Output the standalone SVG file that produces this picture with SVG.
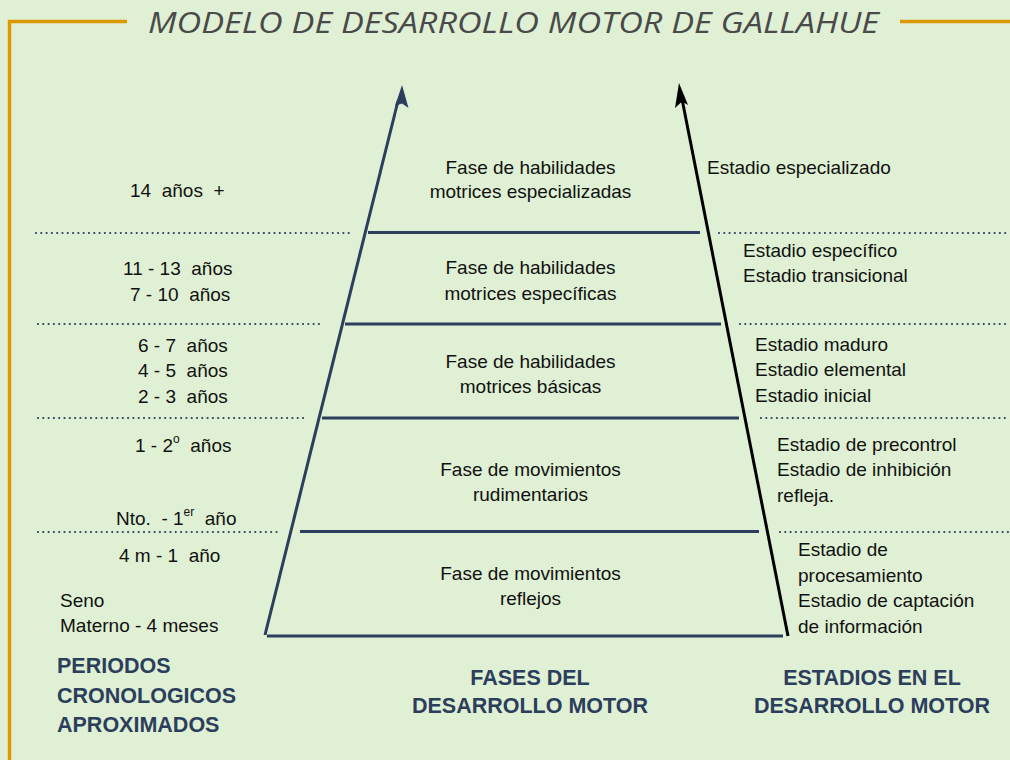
<svg xmlns="http://www.w3.org/2000/svg" width="1010" height="760" viewBox="0 0 1010 760">
<style>
text{white-space:pre}
.t{font-family:"Liberation Sans",Arial,sans-serif;font-size:19px;fill:#111}
.c{text-anchor:middle}
.b{font-family:"Liberation Sans",Arial,sans-serif;font-size:21.5px;font-weight:bold;fill:#2c3e5c}
.sol{stroke:#2c3e5c;stroke-width:3;fill:none}
.dot{stroke:#2c3e5c;stroke-width:2.2;stroke-dasharray:0 5.3;stroke-linecap:round;fill:none}
.org{stroke:#de9800;fill:none}
.sup{font-size:12px}
</style>
<rect x="0" y="0" width="1010" height="760" fill="#dff0d4"/>
<g id="frame">
<path class="org" stroke-width="3.4" d="M9.5 760 V21.5 H127 M900 21.5 H1010"/>
</g>
<g id="title">
<text x="148" y="33" font-family="'Open Sans','Liberation Sans',sans-serif" font-style="italic" font-size="30" fill="#4a4a4a" textLength="731" lengthAdjust="spacingAndGlyphs">MODELO DE DESARROLLO MOTOR DE GALLAHUE</text>
</g>
<g id="dividers">
<line class="sol" x1="368" y1="232.5" x2="700" y2="232.5"/>
<line class="sol" x1="345" y1="324" x2="721" y2="324"/>
<line class="sol" x1="322" y1="418" x2="739" y2="418"/>
<line class="sol" x1="300" y1="531.5" x2="759" y2="531.5"/>
<line class="sol" x1="267" y1="636" x2="783" y2="636"/>
<line class="dot" x1="36" y1="233" x2="352" y2="233"/>
<line class="dot" x1="719" y1="233" x2="1010" y2="233"/>
<line class="dot" x1="38" y1="324" x2="322" y2="324"/>
<line class="dot" x1="740" y1="324" x2="1010" y2="324"/>
<line class="dot" x1="38" y1="418" x2="308" y2="418"/>
<line class="dot" x1="761" y1="418" x2="1010" y2="418"/>
<line class="dot" x1="38" y1="532" x2="280" y2="532"/>
<line class="dot" x1="780" y1="532" x2="1010" y2="532"/>
</g>
<g id="connectors">
<line x1="265" y1="635" x2="398" y2="101" stroke="#2c3e5c" stroke-width="3"/>
<polygon points="402,85 408.5,108 402,103.5 395,106" fill="#2c3e5c"/>
<line x1="788" y1="636" x2="682" y2="99" stroke="#000" stroke-width="3"/>
<polygon points="679,83 688,105 682,101.5 675,108" fill="#000"/>
</g>
<g id="phase-especializadas"><text class="t c" x="530.5" y="174">Fase de habilidades</text><text class="t c" x="530.5" y="198">motrices especializadas</text></g>
<g id="phase-especificas"><text class="t c" x="530.5" y="274">Fase de habilidades</text><text class="t c" x="530.5" y="300">motrices específicas</text></g>
<g id="phase-basicas"><text class="t c" x="530.5" y="368">Fase de habilidades</text><text class="t c" x="530.5" y="393">motrices básicas</text></g>
<g id="phase-rudimentarios"><text class="t c" x="530.5" y="476">Fase de movimientos</text><text class="t c" x="530.5" y="501">rudimentarios</text></g>
<g id="phase-reflejos"><text class="t c" x="530.5" y="580">Fase de movimientos</text><text class="t c" x="530.5" y="605">reflejos</text></g>
<g id="periods">
<text class="t" x="130" y="197">14  años  +</text>
<text class="t" x="123" y="275">11 - 13  años</text>
<text class="t" x="130" y="301">7 - 10  años</text>
<text class="t" x="138" y="352">6 - 7  años</text>
<text class="t" x="138" y="377">4 - 5  años</text>
<text class="t" x="138" y="403">2 - 3  años</text>
<text class="t" x="135" y="452">1 - 2<tspan class="sup" dy="-9">o</tspan><tspan dy="9">  años</tspan></text>
<text class="t" x="116" y="525">Nto.  - 1<tspan class="sup" dy="-9">er</tspan><tspan dy="9">  año</tspan></text>
<text class="t" x="119" y="562">4 m - 1  año</text>
<text class="t" x="60" y="607">Seno</text>
<text class="t" x="60" y="632">Materno - 4 meses</text>
</g>
<g id="stages">
<text class="t" x="707" y="174">Estadio especializado</text>
<text class="t" x="743" y="257">Estadio específico</text>
<text class="t" x="743" y="282">Estadio transicional</text>
<text class="t" x="755" y="351">Estadio maduro</text>
<text class="t" x="755" y="376">Estadio elemental</text>
<text class="t" x="755" y="402">Estadio inicial</text>
<text class="t" x="777" y="451">Estadio de precontrol</text>
<text class="t" x="777" y="476">Estadio de inhibición</text>
<text class="t" x="777" y="502">refleja.</text>
<text class="t" x="798" y="556">Estadio de</text>
<text class="t" x="798" y="582">procesamiento</text>
<text class="t" x="798" y="607">Estadio de captación</text>
<text class="t" x="798" y="633">de información</text>
</g>
<g id="label-periodos">
<text class="b" x="57" y="673">PERIODOS</text>
<text class="b" x="57" y="703">CRONOLOGICOS</text>
<text class="b" x="57" y="732">APROXIMADOS</text>
</g>
<g id="label-fases">
<text class="b c" x="530" y="685">FASES DEL</text>
<text class="b c" x="530" y="713">DESARROLLO MOTOR</text>
</g>
<g id="label-estadios">
<text class="b c" x="872" y="685">ESTADIOS EN EL</text>
<text class="b c" x="872" y="713">DESARROLLO MOTOR</text>
</g>
</svg>
